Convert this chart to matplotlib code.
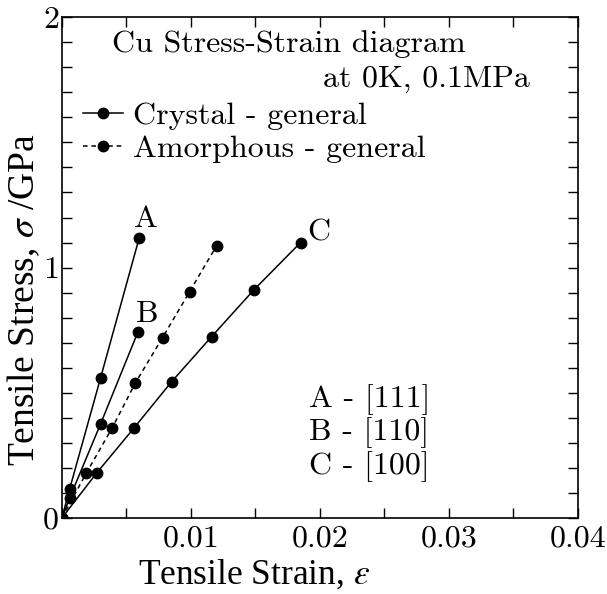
import numpy as np
import matplotlib
matplotlib.use("Agg")
import matplotlib.pyplot as plt

# Cu stress-strain data (strain, stress in GPa)
strain_a = [0, 0.0006, 0.0030, 0.0060]
stress_a = [0, 0.116, 0.56, 1.12]
strain_b = [0, 0.0006, 0.0030, 0.0059]
stress_b = [0, 0.08, 0.376, 0.744]
strain_c = [0, 0.0027, 0.0056, 0.0085, 0.0116, 0.0149, 0.0185]
stress_c = [0, 0.18, 0.36, 0.544, 0.724, 0.912, 1.10]
strain_am = [0, 0.0019, 0.0039, 0.0057, 0.0078, 0.0099, 0.0120]
stress_am = [0, 0.18, 0.36, 0.54, 0.72, 0.904, 1.088]

x_ticks = np.arange(0, 0.0401, 0.005)
x_ticklabels = ["", "", "0.01", "", "0.02", "", "0.03", "", "0.04"]
y_ticks = np.arange(0, 2.001, 0.1)
y_ticklabels = ["0"] + [""] * 9 + ["1"] + [""] * 9 + ["2"]

plt.rcParams["mathtext.fontset"] = "stix"
CM = "cmr10"
FS = 23

fig = plt.figure(figsize=(6.07, 5.94), dpi=100)
ax = fig.add_axes([0.102, 0.128, 0.850, 0.843])

kw = dict(color="black", marker="o", markersize=7.5, linewidth=1.1)
ax.plot(strain_a, stress_a, "-", label="Crystal - general", **kw)
ax.plot(strain_b, stress_b, "-", **kw)
ax.plot(strain_c, stress_c, "-", **kw)
ax.plot(strain_am, stress_am, "--", label="Amorphous - general", dashes=(3, 2.5), **kw)

ax.set_xlim(0, 0.04)
ax.set_ylim(0, 2)
ax.set_xticks(x_ticks)
ax.set_xticklabels(x_ticklabels, fontfamily=CM, fontsize=FS)
ax.set_yticks(y_ticks)
ax.set_yticklabels(y_ticklabels, fontfamily=CM, fontsize=FS)
ax.tick_params(direction="in", length=7, width=1, top=True, right=True)
ax.tick_params(axis="x", pad=5)
ax.tick_params(axis="y", pad=2)
for s in ax.spines.values():
    s.set_linewidth(1.2)

ax.set_xlabel(r"Tensile Strain, $\varepsilon$", fontfamily="Liberation Serif", fontsize=25.5)
ax.set_ylabel(r"Tensile Stress, $\sigma$ /GPa", fontfamily="Liberation Serif", fontsize=27)
ax.xaxis.set_label_coords(0.372, -0.114)
ax.xaxis.label.set_va("center")
ax.yaxis.set_label_coords(-0.074, 0.435)
ax.yaxis.label.set_va("center")

ax.text(0.00388, 1.892, "Cu Stress-Strain diagram", fontfamily=CM, fontsize=FS, va="center")
ax.text(0.0363, 1.752, "at 0K, 0.1MPa", fontfamily=CM, fontsize=FS, va="center", ha="right")

ax.text(0.0065, 1.192, "A", fontfamily=CM, fontsize=FS, ha="center", va="center")
ax.text(0.0066, 0.812, "B", fontfamily=CM, fontsize=FS, ha="center", va="center")
ax.text(0.0199, 1.14, "C", fontfamily=CM, fontsize=FS, ha="center", va="center")

for lab, yy in zip(["A - [111]", "B - [110]", "C - [100]"], [0.472, 0.34, 0.204]):
    ax.text(0.01915, yy, lab, fontfamily=CM, fontsize=FS, va="center")

ax.legend(loc="upper left", bbox_to_anchor=(0.041, 0.831), frameon=False,
          prop={"family": CM, "size": FS}, handlelength=1.25, handletextpad=0.3,
          borderpad=0, borderaxespad=0, labelspacing=0.14)

fig.savefig("out.png", dpi=100)
